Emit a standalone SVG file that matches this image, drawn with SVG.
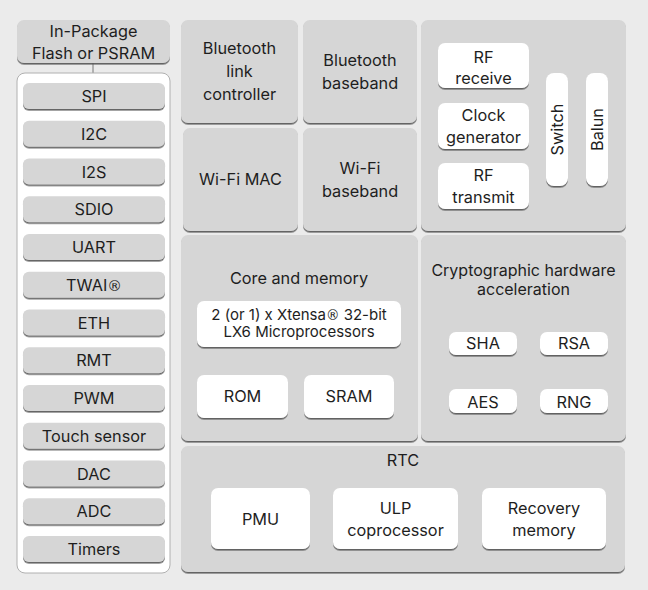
<svg xmlns="http://www.w3.org/2000/svg" width="648" height="590" viewBox="0 0 648 590">
<defs>
<filter id="sh" x="-5%" y="-5%" width="110%" height="120%">
<feDropShadow dx="0" dy="1.6" stdDeviation="0.6" flood-color="#555" flood-opacity="0.9"/>
</filter>
</defs>
<style>
text{font-family:Inter,"Noto Sans",sans-serif;font-size:16.3px;fill:#1e1e1e;text-anchor:middle}
.sm{font-size:15px}
.t{font-size:16px}
.r{font-family:"DejaVu Sans",sans-serif;font-size:0.9em}
.g{fill:#d6d6d6;filter:url(#sh)}
.w{fill:#ffffff;filter:url(#sh)}
.c{fill:#ffffff;stroke:#b0b0b0;stroke-width:1}
.ln{stroke:#777;stroke-width:1;fill:none}
</style>
<rect x="0" y="0" width="648" height="590" fill="#ebebeb"/>
<g id="connectors"><line class="ln" x1="93" y1="63" x2="93" y2="83"/></g>
<g id="flash"><rect class="g" x="17" y="20" width="153" height="43" rx="7"/><text x="93.5" y="37">In-Package</text><text x="93.5" y="59">Flash or PSRAM</text></g>
<g id="peripherals">
<rect class="c" x="17" y="73" width="153" height="500" rx="8"/>
<g id="spi"><rect class="g" x="23" y="83" width="142" height="26" rx="6"/><text x="94" y="102">SPI</text></g>
<g id="i2c"><rect class="g" x="23" y="120.75" width="142" height="26" rx="6"/><text x="94" y="139.75">I2C</text></g>
<g id="i2s"><rect class="g" x="23" y="158.5" width="142" height="26" rx="6"/><text x="94" y="177.5">I2S</text></g>
<g id="sdio"><rect class="g" x="23" y="196.25" width="142" height="26" rx="6"/><text x="94" y="215.25">SDIO</text></g>
<g id="uart"><rect class="g" x="23" y="234" width="142" height="26" rx="6"/><text x="94" y="253">UART</text></g>
<g id="twai"><rect class="g" x="23" y="271.75" width="142" height="26" rx="6"/><text x="94" y="290.75">TWAI<tspan class="r">®</tspan></text></g>
<g id="eth"><rect class="g" x="23" y="309.5" width="142" height="26" rx="6"/><text x="94" y="328.5">ETH</text></g>
<g id="rmt"><rect class="g" x="23" y="347.25" width="142" height="26" rx="6"/><text x="94" y="366.25">RMT</text></g>
<g id="pwm"><rect class="g" x="23" y="385" width="142" height="26" rx="6"/><text x="94" y="404">PWM</text></g>
<g id="touch"><rect class="g" x="23" y="422.75" width="142" height="26" rx="6"/><text x="94" y="441.75">Touch sensor</text></g>
<g id="dac"><rect class="g" x="23" y="460.5" width="142" height="26" rx="6"/><text x="94" y="479.5">DAC</text></g>
<g id="adc"><rect class="g" x="23" y="498.25" width="142" height="26" rx="6"/><text x="94" y="517.25">ADC</text></g>
<g id="timers"><rect class="g" x="23" y="536" width="142" height="26" rx="6"/><text x="94" y="555">Timers</text></g>
</g>
<g id="bt-link"><rect class="g" x="181" y="20" width="117" height="103" rx="7"/><text x="239.5" y="54">Bluetooth</text><text x="239.5" y="77">link</text><text x="239.5" y="100">controller</text></g>
<g id="bt-baseband"><rect class="g" x="303" y="20" width="114" height="103" rx="7"/><text x="360" y="66">Bluetooth</text><text x="360" y="89">baseband</text></g>
<g id="wifi-mac"><rect class="g" x="183" y="128" width="115" height="103" rx="7"/><text x="240.5" y="185">Wi-Fi MAC</text></g>
<g id="wifi-baseband"><rect class="g" x="303" y="128" width="114" height="103" rx="7"/><text x="360" y="174">Wi-Fi</text><text x="360" y="197">baseband</text></g>
<g id="rf">
<rect class="g" x="421" y="20" width="205" height="211" rx="7"/>
<g id="rf-receive"><rect class="w" x="438" y="43" width="91" height="45" rx="7"/><text x="483.5" y="63">RF</text><text x="483.5" y="84">receive</text></g>
<g id="clock"><rect class="w" x="438" y="103" width="91" height="46" rx="7"/><text x="483.5" y="121">Clock</text><text x="483.5" y="143">generator</text></g>
<g id="rf-transmit"><rect class="w" x="438" y="163" width="91" height="46" rx="7"/><text x="483.5" y="181">RF</text><text x="483.5" y="203">transmit</text></g>
<g id="switch"><rect class="w" x="546" y="73" width="22" height="113" rx="8"/><text transform="translate(563,129.5) rotate(-90)">Switch</text></g>
<g id="balun"><rect class="w" x="586" y="73" width="22" height="113" rx="8"/><text transform="translate(603,129.5) rotate(-90)">Balun</text></g>
</g>
<g id="core">
<rect class="g" x="181" y="235" width="237" height="206" rx="7"/>
<text x="299" y="284">Core and memory</text>
<g id="cpu"><rect class="w" x="197" y="301" width="204" height="46" rx="7"/><text class="sm" x="299" y="319.5">2 (or 1) x Xtensa<tspan class="r">®</tspan> 32-bit</text><text class="sm" x="299" y="336.5">LX6 Microprocessors</text></g>
<g id="rom"><rect class="w" x="197" y="375" width="91" height="43" rx="7"/><text x="242.5" y="402">ROM</text></g>
<g id="sram"><rect class="w" x="304" y="375" width="90" height="43" rx="7"/><text x="349" y="402">SRAM</text></g>
</g>
<g id="crypto">
<rect class="g" x="421" y="235" width="205" height="206" rx="7"/>
<text class="t" x="523.5" y="276">Cryptographic hardware</text><text class="t" x="523.5" y="295">acceleration</text>
<g id="sha"><rect class="w" x="449" y="332" width="68" height="23" rx="7"/><text x="483" y="349">SHA</text></g>
<g id="rsa"><rect class="w" x="540" y="332" width="68" height="23" rx="7"/><text x="574" y="349">RSA</text></g>
<g id="aes"><rect class="w" x="449" y="389" width="68" height="24" rx="7"/><text x="483" y="407.5">AES</text></g>
<g id="rng"><rect class="w" x="540" y="389" width="68" height="24" rx="7"/><text x="574" y="407.5">RNG</text></g>
</g>
<g id="rtc">
<rect class="g" x="181" y="446" width="444" height="126" rx="7"/>
<text x="403" y="466">RTC</text>
<g id="pmu"><rect class="w" x="211" y="488" width="99" height="61" rx="7"/><text x="260.5" y="525">PMU</text></g>
<g id="ulp"><rect class="w" x="333" y="488" width="125" height="61" rx="7"/><text x="395.5" y="514">ULP</text><text x="395.5" y="536">coprocessor</text></g>
<g id="recovery"><rect class="w" x="482" y="488" width="124" height="61" rx="7"/><text x="544" y="514">Recovery</text><text x="544" y="536">memory</text></g>
</g>
</svg>
